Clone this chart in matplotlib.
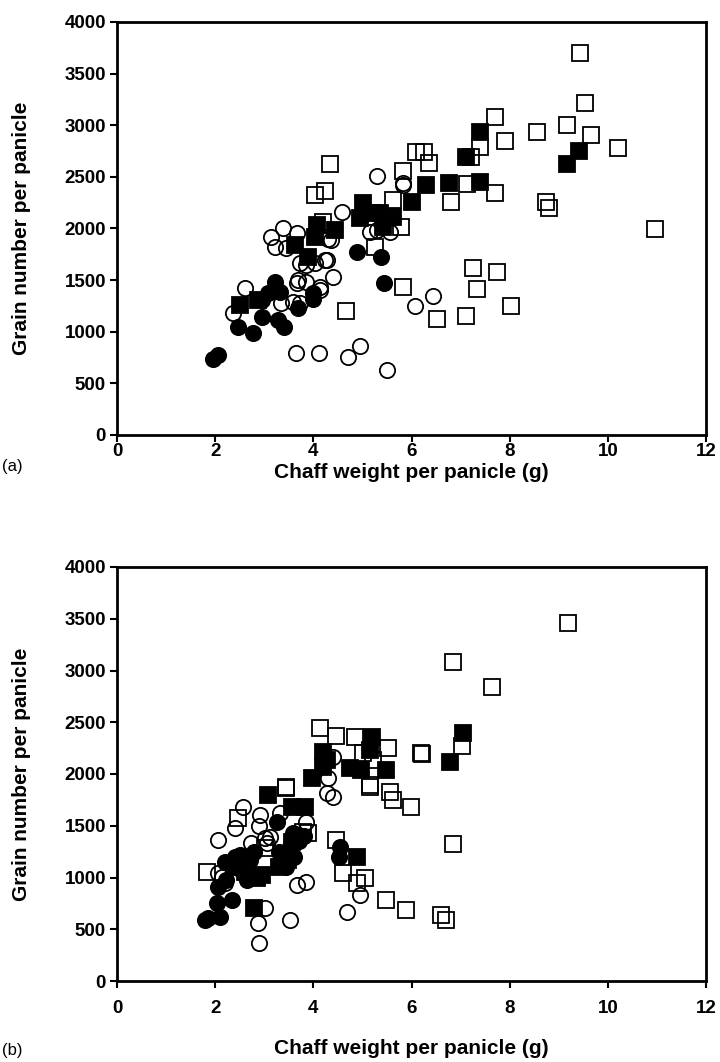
import matplotlib
matplotlib.use("Agg")
import matplotlib.pyplot as plt

plt.rcParams['font.family'] = ['Liberation Sans', 'DejaVu Sans']

# ---- panel (a) data: (chaff weight g, grain number) ----
a_fc_x = [1.95, 2.05, 2.47, 2.78, 2.95, 3.29, 3.40, 2.95, 3.08, 3.32, 3.22, 3.69, 4.00, 4.00, 4.88, 5.37, 5.44]
a_fc_y = [740, 770, 1050, 985, 1146, 1114, 1050, 1307, 1372, 1388, 1485, 1227, 1372, 1320, 1770, 1720, 1470]

a_oc_x = [2.37, 2.61, 3.14, 3.39, 3.66, 3.22, 3.45, 3.73, 3.66, 3.86, 4.13, 4.27, 4.03, 4.40, 4.24, 3.35,
          3.59, 3.73, 4.37, 4.59, 5.15, 5.29, 5.56, 5.30, 5.83, 5.83, 3.65, 4.12, 4.71, 4.96, 5.50, 6.07,
          6.44, 3.86, 4.13, 3.69, 4.30, 5.50]
a_oc_y = [1180, 1420, 1920, 2001, 1953, 1824, 1808, 1662, 1469, 1485, 1404, 1695, 1662, 1533, 1695, 1275,
          1291, 1275, 1888, 2163, 1969, 1985, 1969, 2508, 2421, 2437, 791, 791, 758, 862, 630, 1252,
          1349, 1646, 1437, 1500, 1900, 2100]

a_fs_x = [2.50, 2.87, 3.63, 3.90, 4.03, 4.07, 4.44, 4.95, 5.02, 5.22, 5.42, 5.63, 6.00, 6.30, 6.77, 7.11,
          7.39, 7.39, 9.16, 9.41, 5.36]
a_fs_y = [1259, 1307, 1840, 1727, 1920, 2034, 1985, 2098, 2243, 2147, 2018, 2115, 2260, 2421, 2437, 2689,
          2932, 2454, 2625, 2754, 2150]

a_os_x = [4.34, 4.24, 4.03, 4.20, 5.25, 5.79, 5.63, 5.83, 6.10, 6.25, 6.35, 6.80, 7.13, 7.22, 7.39, 7.70,
          7.71, 7.91, 8.55, 8.74, 8.80, 9.16, 9.44, 9.54, 9.65, 10.20, 10.96, 4.66, 5.83, 6.52, 7.11, 7.26,
          7.33, 7.75, 8.02]
a_os_y = [2621, 2366, 2324, 2067, 1824, 2018, 2276, 2560, 2740, 2740, 2637, 2260, 2431, 2697, 2793, 3083,
          2341, 2850, 2932, 2260, 2195, 3002, 3697, 3212, 2906, 2783, 1995, 1204, 1437, 1120, 1152, 1614,
          1414, 1582, 1252]

# ---- panel (b) data ----
b_fc_x = [1.79, 1.85, 2.10, 2.03, 2.34, 2.06, 2.23, 2.40, 2.50, 2.64, 2.50, 2.70, 3.25, 3.59, 3.45, 3.60,
          3.52, 3.30, 4.54, 4.53, 3.80, 3.70, 2.20, 2.40, 2.80]
b_fc_y = [589, 610, 621, 751, 783, 911, 976, 1104, 1217, 976, 1080, 1170, 1539, 1427, 1104, 1200,
          1298, 1250, 1298, 1201, 1400, 1350, 1150, 1200, 1250]

b_oc_x = [2.57, 2.91, 2.40, 2.06, 2.74, 3.01, 3.12, 3.32, 3.86, 3.66, 3.86, 3.52, 2.88, 2.89, 3.01, 4.68,
          4.95, 2.13, 4.27, 4.30, 3.05, 2.06, 4.40, 2.20, 2.90, 4.40]
b_oc_y = [1684, 1604, 1475, 1362, 1330, 1379, 1394, 1620, 1539, 928, 960, 589, 563, 370, 702, 670,
          831, 1008, 1813, 1958, 1330, 1040, 2167, 950, 1500, 1780]

b_fs_x = [2.79, 2.95, 2.61, 3.49, 3.56, 3.08, 3.56, 3.83, 3.97, 4.20, 4.20, 4.27, 4.75, 4.98, 5.15, 5.19,
          5.49, 4.88, 6.78, 7.05, 2.85, 3.30]
b_fs_y = [702, 1024, 1056, 1169, 1346, 1797, 1684, 1684, 1958, 2070, 2215, 2135, 2055, 2039, 2232, 2360,
          2039, 1201, 2113, 2393, 1000, 1100]

b_os_x = [1.83, 2.47, 3.45, 3.01, 3.79, 3.90, 4.47, 4.61, 4.88, 5.05, 5.49, 5.15, 5.56, 4.13, 4.46, 4.85,
          5.02, 5.22, 5.53, 5.15, 5.63, 5.98, 6.20, 6.22, 7.03, 6.85, 7.65, 9.18, 6.85, 5.88, 6.61, 6.71, 3.45]
b_os_y = [1056, 1572, 1877, 1282, 1443, 1427, 1362, 1041, 944, 992, 783, 1877, 1829, 2441, 2367, 2360,
          2200, 2135, 2248, 1894, 1749, 1684, 2200, 2193, 2273, 3085, 2843, 3462, 1324, 686, 638, 589, 1860]

W, H = 720, 1062
fig = plt.figure(figsize=(W / 100, H / 100), dpi=100)
ax_a = fig.add_axes([117 / W, 1 - 435 / H, 589 / W, 413 / H])
ax_b = fig.add_axes([117 / W, 1 - 981 / H, 589 / W, 414 / H])

ms = 11
ew = 1.3


def draw(ax, oc, os_, fc, fs, tag, xpad, xlab_y, tag_y):
    ax.plot(oc[0], oc[1], 'o', ms=ms, mfc='none', mec='black', mew=ew, ls='none')
    ax.plot(os_[0], os_[1], 's', ms=ms, mfc='none', mec='black', mew=ew, ls='none')
    ax.plot(fc[0], fc[1], 'o', ms=ms, mfc='black', mec='black', mew=ew, ls='none')
    ax.plot(fs[0], fs[1], 's', ms=ms, mfc='black', mec='black', mew=ew, ls='none')
    ax.set_xlim(0, 12)
    ax.set_ylim(0, 4000)
    ax.set_xticks(range(0, 13, 2))
    ax.set_yticks(range(0, 4001, 500))
    ax.tick_params(direction='out', length=5, width=1.5, labelsize=13.5)
    ax.tick_params(axis='x', pad=xpad)
    ax.tick_params(axis='y', pad=3)
    for lab in ax.get_xticklabels() + ax.get_yticklabels():
        lab.set_fontweight('bold')
    for sp in ax.spines.values():
        sp.set_linewidth(2)
    box = ax.get_position()
    fig.text(box.x0 + box.width / 2, 1 - xlab_y / H, 'Chaff weight per panicle (g)',
             fontsize=15, fontweight='bold', ha='center', va='center')
    fig.text(22 / W, box.y0 + box.height / 2, 'Grain number per panicle',
             fontsize=15, fontweight='bold', ha='center', va='center', rotation=90)
    fig.text(2 / W, 1 - tag_y / H, tag, fontsize=12, ha='left', va='center')


draw(ax_a, (a_oc_x, a_oc_y), (a_os_x, a_os_y), (a_fc_x, a_fc_y), (a_fs_x, a_fs_y), '(a)', 1, 472, 466)
draw(ax_b, (b_oc_x, b_oc_y), (b_os_x, b_os_y), (b_fc_x, b_fc_y), (b_fs_x, b_fs_y), '(b)', 9, 1048, 1050)

fig.savefig('out.png', dpi=100)
